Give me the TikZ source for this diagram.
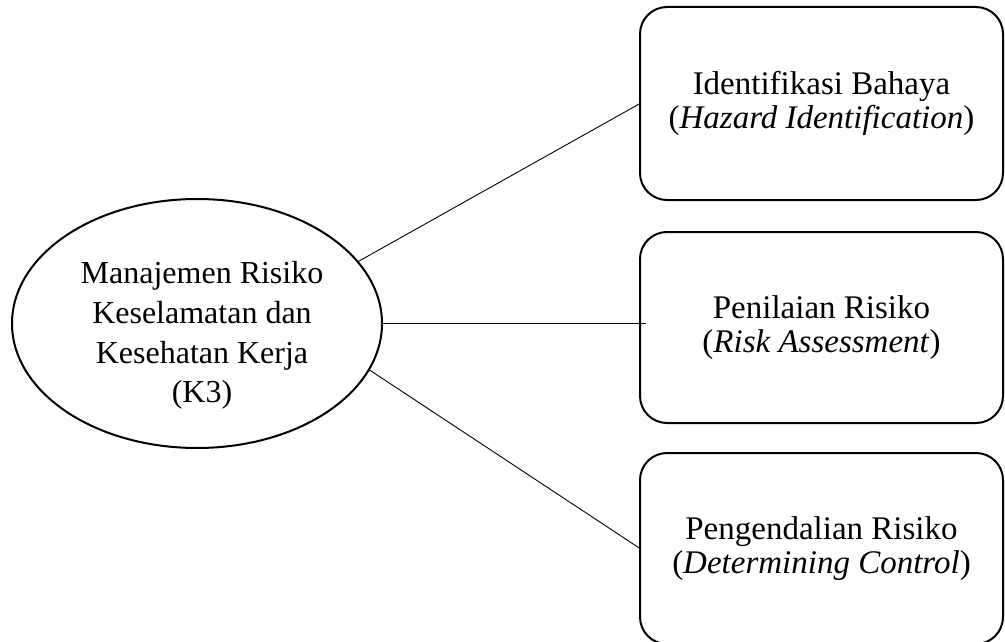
\documentclass[tikz,border=0pt]{standalone}
\usepackage{fontspec}
\setmainfont{Liberation Serif}
\usetikzlibrary{shapes.geometric}
\begin{document}
\begin{tikzpicture}[x=1pt,y=-1pt,
  box/.style={draw, line width=2pt, rounded corners=27pt, minimum width=363pt, minimum height=191pt, inner sep=0pt, outer sep=0pt, align=center, font=\fontsize{33}{34}\selectfont},
  oval/.style={draw, ellipse, line width=2pt, minimum width=370pt, minimum height=249pt, inner sep=0pt, outer sep=0pt},
  ovaltext/.style={inner sep=0pt, align=center, font=\fontsize{32}{39.7}\selectfont},
  link/.style={line width=0.9pt}]
\useasboundingbox (0,0) rectangle (1005,642);
\node[oval] (e) at (197,323.5) {};
\node[ovaltext] (et) at (202,335.5) {Manajemen Risiko\\Keselamatan dan\\Kesehatan Kerja\\(K3)};
\node[box, minimum height=193pt] (b1) at (821.5,103.5) {Identifikasi Bahaya\\(\textit{Hazard Identification})};
\node[box] (b2) at (821.5,327.5) {Penilaian Risiko\\(\textit{Risk Assessment})};
\node[box] (b3) at (821.5,548.5) {Pengendalian Risiko\\(\textit{Determining Control})};
\draw[link] (e.21.5) -- (b1.west);
\draw[link] (e.east) -- ([xshift=6pt]e.east -| b2.west);
\draw[link] (e.-15.8) -- (b3.west);
\end{tikzpicture}
\end{document}
